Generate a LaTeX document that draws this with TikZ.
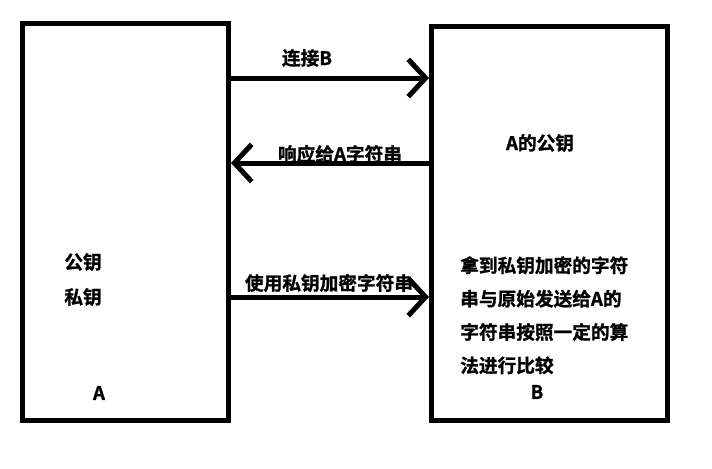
\documentclass[tikz,border=0pt]{standalone}
\usepackage{fontspec}
\setmainfont{Noto Sans CJK SC}[BoldFont={Noto Sans CJK SC Bold}, BoldFeatures={FakeBold=1.2}]
\usepackage{tikz}
\usetikzlibrary{calc}
\usetikzlibrary{arrows.meta}
\tikzstyle{hostbox} = [draw, line width=3.75pt, inner sep=0pt]
\tikzstyle{msgline} = [line width=3.75pt, -{Straight Barb[length=13pt,width=28pt,line width=3.75pt]}]
\tikzstyle{lbl} = [inner sep=0pt, font=\fontsize{14}{25}\selectfont\bfseries]

\begin{document}
\begin{tikzpicture}[x=0.75pt,y=-0.75pt]
\useasboundingbox (0,0) rectangle (712,468);
\node[hostbox, minimum width=206*0.75pt, minimum height=396.5*0.75pt] (hostA) at (125.5,221.75) {};
\node[hostbox, minimum width=236*0.75pt, minimum height=394.5*0.75pt] (hostB) at (549.5,223.25) {};

\node[lbl] (keysA1) at (83,262) {公钥};
\node[lbl] (keysA2) at (83,297) {私钥};
\node[lbl] (nameA) at (99,393) {A};

\node[lbl] (pubB) at (540,143) {A的公钥};
\node[lbl, anchor=north west, align=left] (cmpB) at (460,256) {拿到私钥加密的字符\\串与原始发送给A的\\字符串按照一定的算\\法进行比较};
\node[lbl] (nameB) at (537,392) {B};

\draw[msgline] (hostA.east |- 0,78) -- (hostB.west |- 0,78);
\draw[msgline] (hostB.west |- 0,163) -- (hostA.east |- 0,163);
\draw[msgline] (hostA.east |- 0,297) -- (hostB.west |- 0,297);

\node[lbl] (connect) at (307,58) {连接B};
\node[lbl] (reply) at (340,154) {响应给A字符串};
\node[lbl] (sign) at (329,283) {使用私钥加密字符串};
\end{tikzpicture}
\end{document}
